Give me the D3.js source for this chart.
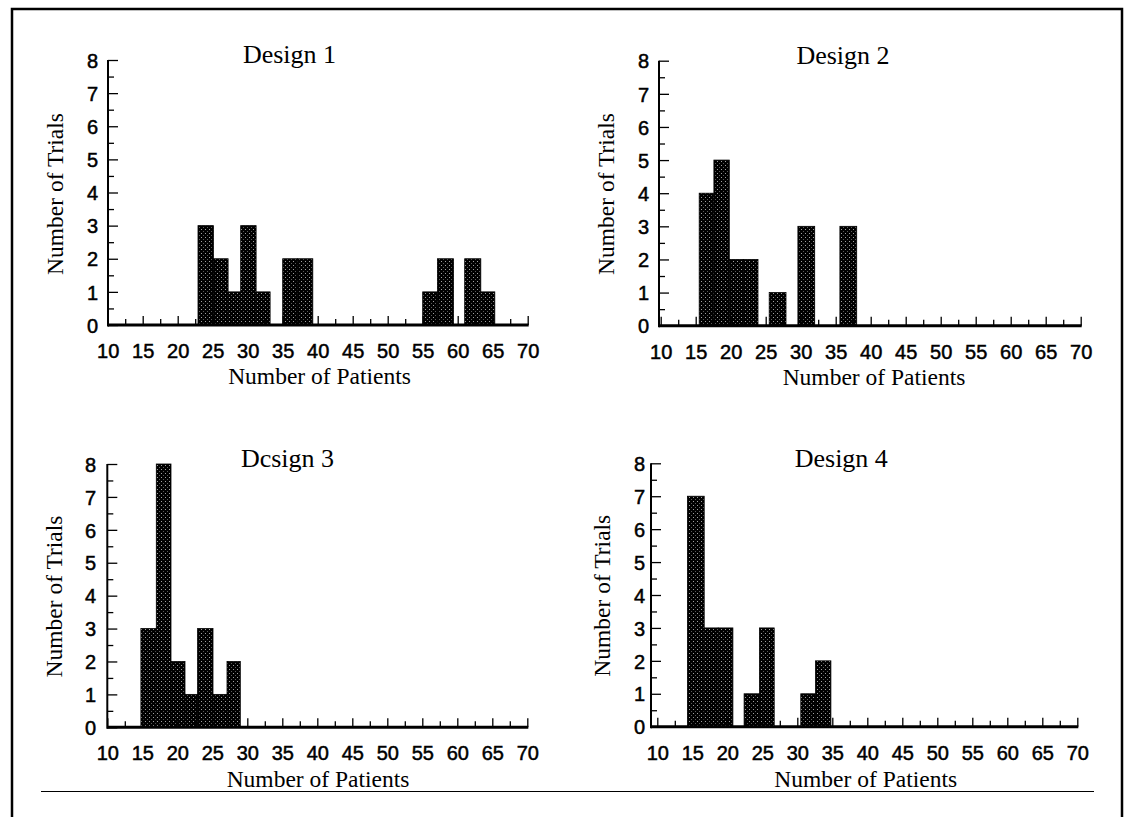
<!DOCTYPE html>
<html><head><meta charset="utf-8">
<script src="https://cdn.jsdelivr.net/npm/d3@7"></script>
<style>body{margin:0;background:#fff}</style>
</head><body>
<svg id="chart" width="1127" height="817"></svg>
<script>
// ---- data ----
const designTitles = ["Design 1", "Design 2", "Dcsign 3", "Design 4"];
const xTickLabels = [10, 15, 20, 25, 30, 35, 40, 45, 50, 55, 60, 65, 70];
const yTickLabels = [0, 1, 2, 3, 4, 5, 6, 7, 8];
const xAxisTitle = "Number of Patients";
const yAxisTitle = "Number of Trials";

// histogram bins: lower edge, upper edge, count (number of trials)
const design1Lo = [22.9, 25.1, 27.2, 29.0, 31.2, 35.0, 37.1, 55.0, 57.1, 61.0, 63.3];
const design1Hi = [25.1, 27.2, 29.0, 31.2, 33.2, 37.1, 39.3, 57.1, 59.4, 63.3, 65.3];
const design1Counts = [3, 2, 1, 3, 1, 2, 2, 1, 2, 2, 1];

const design2Lo = [15.5, 17.6, 19.8, 21.8, 25.5, 29.6, 35.6];
const design2Hi = [17.6, 19.8, 21.8, 23.9, 27.9, 32.0, 38.0];
const design2Counts = [4, 5, 2, 2, 1, 3, 3];

const design3Lo = [14.8, 17.0, 19.1, 21.1, 22.9, 25.1, 27.1];
const design3Hi = [17.0, 19.1, 21.1, 22.9, 25.1, 27.1, 29.0];
const design3Counts = [3, 8, 2, 1, 3, 1, 2];

const design4Lo = [14.3, 16.7, 18.7, 22.4, 24.6, 30.5, 32.6];
const design4Hi = [16.7, 18.7, 20.8, 24.6, 26.7, 32.6, 34.8];
const design4Counts = [7, 3, 3, 1, 3, 1, 2];

const designData = [
  [design1Lo, design1Hi, design1Counts],
  [design2Lo, design2Hi, design2Counts],
  [design3Lo, design3Hi, design3Counts],
  [design4Lo, design4Hi, design4Counts]
];

// ---- layout ----
const layout = [
  {x10: 107.7, x70: 527.7, axX: 108, y0: 325, y8: 60, tX: 289.5, tY: 63, xtX: 319.5, xtY: 384, ytX: 62.5, ytY: 194, ylR: 98},
  {x10: 660.7, x70: 1080.7, axX: 659, y0: 325.7, y8: 60.7, tX: 843, tY: 64, xtX: 874, xtY: 385, ytX: 614, ytY: 194, ylR: 649},
  {x10: 107.3, x70: 527.3, axX: 107.3, y0: 727.3, y8: 464, tX: 287.5, tY: 466.7, xtX: 318, xtY: 786.7, ytX: 61.5, ytY: 596.5, ylR: 96},
  {x10: 657.3, x70: 1077.3, axX: 651, y0: 726.7, y8: 463.3, tX: 841.3, tY: 466.7, xtX: 865.7, xtY: 786.7, ytX: 610, ytY: 595.7, ylR: 645}
];

const svg = d3.select("#chart");

// stipple pattern for bars
const defs = svg.append("defs");
const pat = defs.append("pattern").attr("id", "stip").attr("patternUnits", "userSpaceOnUse")
  .attr("width", 4).attr("height", 4);
pat.append("rect").attr("width", 4).attr("height", 4).attr("fill", "#000");
pat.append("rect").attr("x", 1).attr("y", 1).attr("width", 1).attr("height", 1).attr("fill", "#a0a0a0");
pat.append("rect").attr("x", 3).attr("y", 3).attr("width", 1).attr("height", 1).attr("fill", "#5a5a5a");

// frame
svg.append("path").attr("d", "M12,817V9H1122V817").attr("fill", "none").attr("stroke", "#000").attr("stroke-width", 2.5);
svg.append("line").attr("x1", 41).attr("x2", 1094).attr("y1", 791.5).attr("y2", 791.5)
  .attr("stroke", "#000").attr("stroke-width", 1.2);

const serif = "'Liberation Serif', 'Times New Roman', serif";
const sans = "'Liberation Sans', Arial, sans-serif";

designTitles.forEach((title, i) => {
  const L = layout[i];
  const [lo, hi, counts] = designData[i];
  const x = d3.scaleLinear().domain([10, 70]).range([L.x10, L.x70]);
  const y = d3.scaleLinear().domain([0, 8]).range([L.y0, L.y8]);
  const g = svg.append("g");

  // bars
  g.selectAll("rect.bar").data(counts).enter().append("rect")
    .attr("class", "bar")
    .attr("x", (d, k) => x(lo[k]))
    .attr("width", (d, k) => x(hi[k]) - x(lo[k]))
    .attr("y", d => y(d))
    .attr("height", d => y(0) - y(d))
    .attr("fill", "url(#stip)")
    .attr("stroke", "#000").attr("stroke-width", 0.8);

  // x axis (ticks pointing up)
  const xTicks = d3.range(10, 70.001, 2.5);
  const xa = g.append("g").attr("transform", `translate(0,${L.y0})`)
    .call(d3.axisBottom(x).tickValues(xTicks).tickSize(-9).tickSizeOuter(0)
      .tickFormat(v => xTickLabels.includes(v) ? String(v) : ""));
  xa.select(".domain").remove();
  xa.selectAll(".tick line").attr("stroke", "#000").attr("stroke-width", 1.3)
    .attr("y2", d => (d % 5 === 0) ? -9 : -6);
  xa.selectAll(".tick text").attr("y", 33).attr("dy", 0)
    .style("font-family", sans).style("font-size", "20px").attr("fill", "#000")
    .attr("stroke", "#000").attr("stroke-width", 0.5);
  g.append("line").attr("x1", L.axX).attr("x2", x(70) + 1).attr("y1", L.y0).attr("y2", L.y0)
    .attr("stroke", "#000").attr("stroke-width", 3);

  // y axis (ticks pointing right)
  const yTicks = d3.range(0, 8.001, 0.5);
  const ya = g.append("g").attr("transform", `translate(${L.axX},0)`)
    .call(d3.axisLeft(y).tickValues(yTicks).tickSize(-10).tickSizeOuter(0)
      .tickFormat(v => yTickLabels.includes(v) ? String(v) : ""));
  ya.select(".domain").remove();
  ya.selectAll(".tick line").attr("stroke", "#000").attr("stroke-width", 1.3)
    .attr("x2", d => Number.isInteger(d) ? 10 : 6);
  ya.selectAll(".tick text").attr("x", L.ylR - L.axX).attr("dy", "0.36em")
    .attr("text-anchor", "end")
    .style("font-family", sans).style("font-size", "20px").attr("fill", "#000")
    .attr("stroke", "#000").attr("stroke-width", 0.5);
  g.append("line").attr("x1", L.axX).attr("x2", L.axX).attr("y1", L.y8).attr("y2", L.y0 + 1.5)
    .attr("stroke", "#000").attr("stroke-width", 2);

  // titles
  g.append("text").attr("x", L.tX).attr("y", L.tY).attr("text-anchor", "middle")
    .style("font-family", serif).style("font-size", "26px").text(title);
  g.append("text").attr("x", L.xtX).attr("y", L.xtY).attr("text-anchor", "middle")
    .style("font-family", serif).style("font-size", "23.5px").text(xAxisTitle);
  g.append("text").attr("transform", `translate(${L.ytX},${L.ytY}) rotate(-90)`)
    .attr("text-anchor", "middle")
    .style("font-family", serif).style("font-size", "23.5px").text(yAxisTitle);
});
</script>
</body></html>
